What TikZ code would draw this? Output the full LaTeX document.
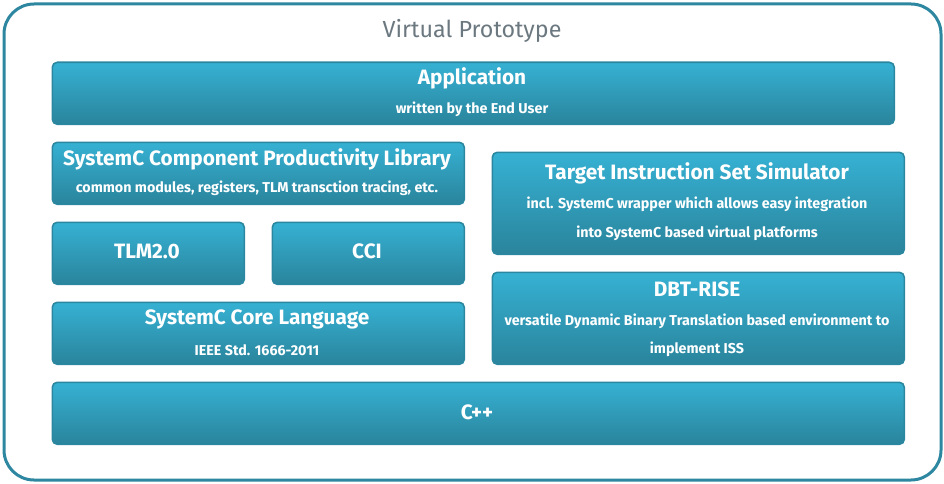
\documentclass[tikz,border=0pt]{standalone}
\usepackage{fontspec}
\setmainfont{Fira Sans}
\definecolor{frame}{HTML}{2E87A0}
\definecolor{boxtop}{HTML}{36B1D3}
\definecolor{boxbot}{HTML}{2A849C}
\definecolor{boxedge}{HTML}{2B87A0}
\definecolor{titlegray}{HTML}{6B7880}
\begin{document}
\begin{tikzpicture}[x=1pt,y=-1pt,
  layerbox/.style={rectangle, rounded corners=5pt, draw=boxedge, line width=1.6pt,
    top color=boxtop, bottom color=boxbot, inner sep=0pt, anchor=north west},
  headtxt/.style={text=white, font=\bfseries\fontsize{20.8}{23}\selectfont, inner sep=0pt},
  subtxt/.style={text=white, font=\bfseries\fontsize{14.3}{16}\selectfont, inner sep=0pt}
]
\useasboundingbox (0,0) rectangle (944,484);
\node[draw=frame, line width=3pt, rounded corners=30pt, rectangle, inner sep=0pt,
  minimum width=937pt, minimum height=476pt, anchor=north west] (frame) at (2.5,2.5) {};
\node[text=titlegray, font=\fontsize{23.3}{26}\selectfont, inner sep=0pt] (vp) at (472,31) {Virtual Prototype};

% boxes
\node[layerbox, minimum width=842pt, minimum height=62pt] (app) at (51.5,61.5) {};
\node[layerbox, minimum width=412pt, minimum height=62pt] (cpl) at (51.5,141.5) {};
\node[layerbox, minimum width=192pt, minimum height=62pt] (tlm) at (51.5,221.5) {};
\node[layerbox, minimum width=192pt, minimum height=62pt] (cci) at (271.5,221.5) {};
\node[layerbox, minimum width=412pt, minimum height=62pt] (core) at (51.5,301.5) {};
\node[layerbox, minimum width=412pt, minimum height=102pt] (iss) at (491.5,151.5) {};
\node[layerbox, minimum width=412pt, minimum height=92pt] (dbt) at (491.5,271.5) {};
\node[layerbox, minimum width=852pt, minimum height=62pt] (cpp) at (51.5,381.5) {};

% texts
\node[headtxt] (appT) at (472,78) {Application};
\node[subtxt] (appS) at (472,109) {written by the End User};
\node[headtxt] (cplT) at (257,159) {SystemC Component Productivity Library};
\node[subtxt] (cplS) at (257,188) {common modules, registers, TLM transction tracing, etc.};
\node[headtxt] (tlmT) at (147,251) {TLM2.0};
\node[headtxt] (cciT) at (367,251) {CCI};
\node[headtxt] (coreT) at (257,319) {SystemC Core Language};
\node[subtxt] (coreS) at (257,350) {IEEE Std. 1666-2011};
\node[headtxt] (issT) at (697,173) {Target Instruction Set Simulator};
\node[subtxt] (issS1) at (697,204) {incl. SystemC wrapper which allows easy integration};
\node[subtxt] (issS2) at (697,233) {into SystemC based virtual platforms};
\node[headtxt] (dbtT) at (697,289) {DBT-RISE};
\node[subtxt] (dbtS1) at (697,321) {versatile Dynamic Binary Translation based environment to};
\node[subtxt] (dbtS2) at (697,349) {implement ISS};
\node[headtxt] (cppT) at (477,412) {C++};
\end{tikzpicture}
\end{document}
